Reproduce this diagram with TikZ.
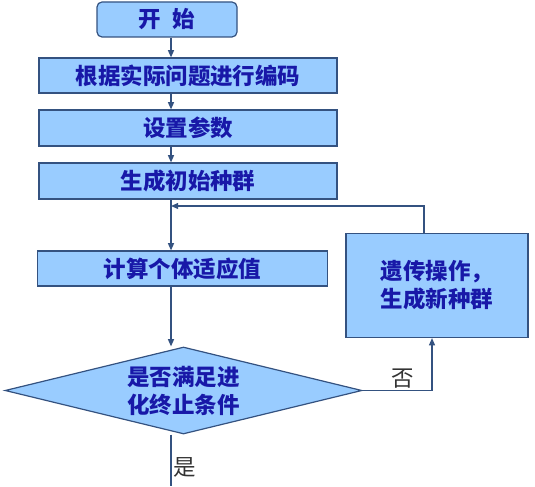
\documentclass[tikz,border=0pt]{standalone}
\usepackage{fontspec}
\usetikzlibrary{shapes.geometric,arrows.meta}
\newfontfamily\cjk{Noto Sans CJK SC}
\definecolor{boxfill}{RGB}{153,204,255}
\definecolor{boxline}{RGB}{52,82,128}
\definecolor{boxtext}{RGB}{24,24,168}
\tikzset{
  flowbox/.style={draw=boxline, fill=boxfill, line width=0.03cm, inner sep=0pt,
    text=boxtext, font=\cjk\bfseries\fontsize{16pt}{20pt}\selectfont},
  decision/.style={flowbox, diamond, shape aspect=4.1},
  flowline/.style={draw=boxline, line width=0.03cm},
  flowarrow/.style={flowline, -{Triangle[length=0.18cm,width=0.15cm]}},
  branch/.style={text=black!80, inner sep=0pt, font=\cjk\fontsize{16pt}{20pt}\selectfont},
}
\begin{document}
\begin{tikzpicture}
            \useasboundingbox (0,0) rectangle (13.375000,12.150000);
            
            % Marking spine and turning points
            \coordinate (spine) at (4.275000,12.150000);
            \coordinate (exit) at (4.275000,0.000000);
            \coordinate (join) at (4.275000,7.000000);
            \coordinate (backcol) at (10.600000,7.000000);
            \coordinate (nocol) at (10.800000,2.387500);
            
            % Drawing box start
            \node [flowbox, rounded corners=0.125cm, minimum width=3.500000cm, minimum height=0.875000cm] (start) at (4.175000,11.662500) {开\hspace{0.5em}始};
            
            % Drawing boxes code, param, init
            \node [flowbox, minimum width=7.450000cm, minimum height=0.875000cm] (code) at (4.700000,10.262500) {根据实际问题进行编码};
            \node [flowbox, minimum width=7.450000cm, minimum height=0.900000cm] (param) at (4.700000,8.950000) {设置参数};
            \node [flowbox, minimum width=7.450000cm, minimum height=0.900000cm] (init) at (4.700000,7.625000) {生成初始种群};
            
            % Drawing box fitness
            \node [flowbox, minimum width=7.250000cm, minimum height=0.875000cm] (fitness) at (4.562500,5.437500) {计算个体适应值};
            
            % Drawing box genetic
            \node [flowbox, align=left, minimum width=4.550000cm, minimum height=2.600000cm] (genetic) at (10.925000,5.012500) {遗传操作，\\生成新种群};
            
            % Drawing diamond check
            \node [decision, align=center, minimum width=8.925000cm, minimum height=2.175000cm] (check) at (4.587500,2.387500) {是否满足进\\化终止条件};
            
            % Drawing arrows down the spine
            \draw [flowarrow] (start.south -| spine) -- (code.north -| spine);%
            \draw [flowarrow] (code.south -| spine) -- (param.north -| spine);%
            \draw [flowarrow] (param.south -| spine) -- (init.north -| spine);%
            \draw [flowarrow] (init.south -| spine) -- (fitness.north -| spine);%
            \draw [flowarrow] (fitness.south -| spine) -- (check.north -| spine);%
            
            % Drawing branch no and loop back
            \draw [flowarrow] (check.east) -- (nocol) -- (nocol |- genetic.south);%
            \draw [flowarrow] (backcol |- genetic.north) -- (backcol) -- (join);%
            \node [branch] (nolabel) at (10.075000,2.680000) {否};
            
            % Drawing branch yes
            \draw [flowline] (check.south -| exit) -- (exit);%
            \node [branch] (yeslabel) at (4.625000,0.475000) {是};
        \end{tikzpicture}
\end{document}
